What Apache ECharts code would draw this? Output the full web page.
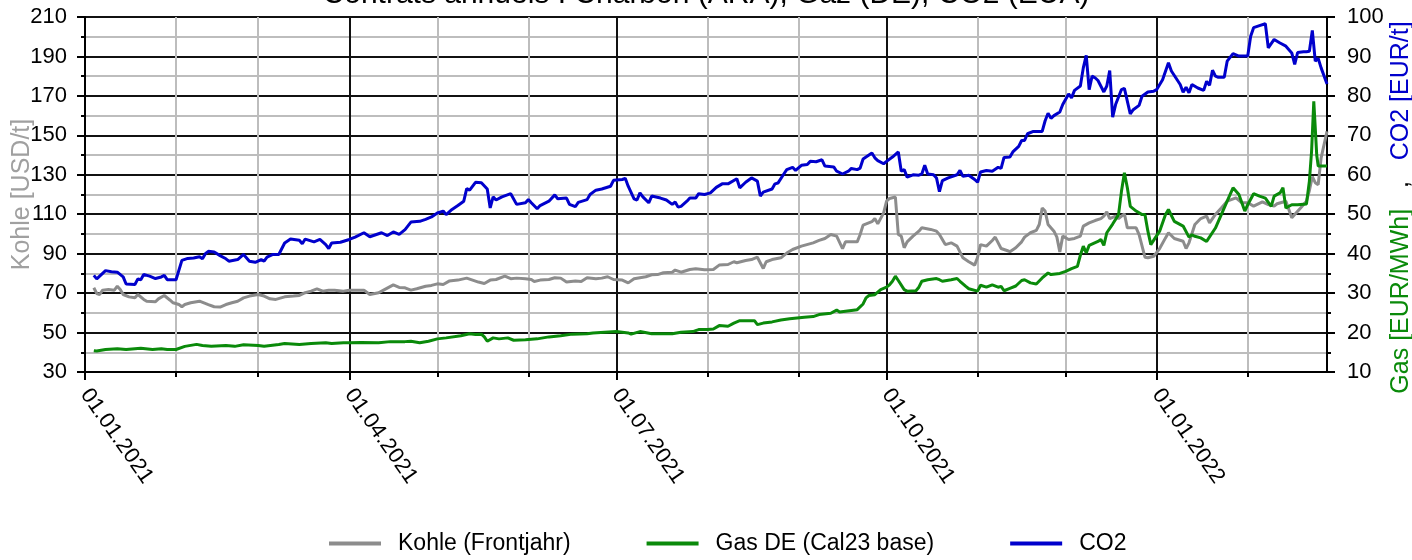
<!DOCTYPE html>
<html lang="de" style="height: 100%">
<head>
  <meta charset="utf-8">
</head>
<body style="height: 100%; margin: 0">
  <div id="container" style="width: 1412px; height: 560px"></div>

  <script type="text/javascript" src="https://cdn.jsdelivr.net/npm/echarts@6/dist/echarts.min.js"></script>

  <script type="text/javascript">
    // Kohle Frontjahr, USD/t (linke Achse)
    const kohle = [
      ['2021-01-04', 72.7], ['2021-01-05', 69.8], ['2021-01-06', 69.3], ['2021-01-07', 71.5], ['2021-01-09', 71.8],
      ['2021-01-11', 71.5], ['2021-01-12', 73.5], ['2021-01-13', 71.8], ['2021-01-14', 69.3], ['2021-01-16', 68.1],
      ['2021-01-18', 67.6], ['2021-01-19', 69.3], ['2021-01-21', 66.8], ['2021-01-22', 65.9], ['2021-01-25', 65.6],
      ['2021-01-26', 67.1], ['2021-01-28', 68.8], ['2021-01-30', 66.4], ['2021-01-31', 65.1], ['2021-02-02', 64.2],
      ['2021-02-03', 63.1], ['2021-02-04', 64.2], ['2021-02-06', 65.1], ['2021-02-09', 65.9], ['2021-02-12', 64.2],
      ['2021-02-14', 63.1], ['2021-02-16', 62.9], ['2021-02-18', 64.2], ['2021-02-20', 65.1], ['2021-02-22', 65.9],
      ['2021-02-24', 67.6], ['2021-02-26', 68.5], ['2021-03-01', 69.3], ['2021-03-03', 68.5], ['2021-03-05', 67.1],
      ['2021-03-07', 66.8], ['2021-03-10', 68.1], ['2021-03-13', 68.5], ['2021-03-15', 68.8], ['2021-03-17', 70.2],
      ['2021-03-19', 71.0], ['2021-03-21', 72.2], ['2021-03-23', 71.0], ['2021-03-25', 71.5], ['2021-03-27', 71.5],
      ['2021-03-30', 71.0], ['2021-04-01', 71.5], ['2021-04-04', 71.5], ['2021-04-06', 71.5], ['2021-04-08', 69.3],
      ['2021-04-11', 70.2], ['2021-04-13', 71.8], ['2021-04-16', 74.2], ['2021-04-18', 72.9], ['2021-04-20', 72.7],
      ['2021-04-22', 71.5], ['2021-04-24', 72.2], ['2021-04-27', 73.5], ['2021-04-29', 73.9], ['2021-05-01', 74.7],
      ['2021-05-03', 74.4], ['2021-05-05', 76.1], ['2021-05-08', 76.6], ['2021-05-11', 77.6], ['2021-05-13', 76.6],
      ['2021-05-15', 75.6], ['2021-05-17', 74.9], ['2021-05-19', 76.6], ['2021-05-21', 76.9], ['2021-05-24', 78.6],
      ['2021-05-26', 77.3], ['2021-05-28', 77.6], ['2021-05-31', 77.3], ['2021-06-02', 76.9], ['2021-06-03', 75.9],
      ['2021-06-05', 76.6], ['2021-06-08', 76.9], ['2021-06-10', 77.8], ['2021-06-12', 77.6], ['2021-06-14', 75.6],
      ['2021-06-17', 76.1], ['2021-06-19', 75.9], ['2021-06-21', 77.8], ['2021-06-24', 77.3], ['2021-06-26', 77.6],
      ['2021-06-28', 78.3], ['2021-06-30', 76.9], ['2021-07-03', 76.6], ['2021-07-05', 75.2], ['2021-07-07', 77.3],
      ['2021-07-11', 78.3], ['2021-07-13', 79.3], ['2021-07-15', 79.4], ['2021-07-17', 80.3], ['2021-07-20', 80.6],
      ['2021-07-21', 81.7], ['2021-07-23', 80.6], ['2021-07-26', 82.0], ['2021-07-28', 82.3], ['2021-07-31', 81.8],
      ['2021-08-03', 82.0], ['2021-08-05', 84.2], ['2021-08-08', 84.5], ['2021-08-10', 85.9], ['2021-08-11', 85.4],
      ['2021-08-14', 86.5], ['2021-08-16', 87.0], ['2021-08-18', 88.2], ['2021-08-20', 82.5], ['2021-08-21', 85.9],
      ['2021-08-23', 87.0], ['2021-08-26', 87.9], ['2021-08-28', 90.3], ['2021-08-30', 92.1], ['2021-09-02', 93.8],
      ['2021-09-06', 95.5], ['2021-09-08', 96.7], ['2021-09-10', 97.7], ['2021-09-12', 99.7], ['2021-09-14', 98.9],
      ['2021-09-16', 92.6], ['2021-09-17', 96.0], ['2021-09-19', 96.0], ['2021-09-21', 96.0], ['2021-09-22', 99.7],
      ['2021-09-23', 104.5], ['2021-09-26', 106.2], ['2021-09-27', 107.8], ['2021-09-28', 105.1], ['2021-09-30', 110.7],
      ['2021-10-01', 116.6], ['2021-10-02', 118.0], ['2021-10-04', 118.7], ['2021-10-05', 99.7], ['2021-10-06', 98.9],
      ['2021-10-07', 93.0], ['2021-10-08', 96.0], ['2021-10-10', 98.9], ['2021-10-12', 101.4], ['2021-10-13', 103.1],
      ['2021-10-16', 102.3], ['2021-10-18', 101.4], ['2021-10-19', 99.7], ['2021-10-21', 94.6], ['2021-10-23', 95.5],
      ['2021-10-25', 93.8], ['2021-10-27', 87.9], ['2021-10-29', 85.9], ['2021-10-31', 84.2], ['2021-11-01', 88.2],
      ['2021-11-02', 94.6], ['2021-11-04', 93.8], ['2021-11-06', 96.7], ['2021-11-07', 98.4], ['2021-11-09', 92.6],
      ['2021-11-11', 91.6], ['2021-11-12', 91.0], ['2021-11-14', 93.0], ['2021-11-16', 96.0], ['2021-11-17', 98.4],
      ['2021-11-19', 100.6], ['2021-11-21', 101.8], ['2021-11-22', 104.8], ['2021-11-23', 113.2], ['2021-11-24', 111.6],
      ['2021-11-25', 104.8], ['2021-11-27', 101.4], ['2021-11-28', 98.4], ['2021-11-29', 90.9], ['2021-11-30', 98.9],
      ['2021-12-02', 97.2], ['2021-12-04', 97.7], ['2021-12-06', 98.9], ['2021-12-07', 104.0], ['2021-12-09', 105.6],
      ['2021-12-11', 106.8], ['2021-12-13', 107.8], ['2021-12-14', 109.0], ['2021-12-15', 111.2], ['2021-12-16', 107.8],
      ['2021-12-18', 109.0], ['2021-12-19', 107.8], ['2021-12-21', 110.2], ['2021-12-22', 103.1], ['2021-12-25', 103.1],
      ['2021-12-26', 99.7], ['2021-12-28', 88.2], ['2021-12-29', 87.9], ['2021-12-31', 88.7], ['2022-01-02', 92.6],
      ['2022-01-04', 98.0], ['2022-01-05', 100.6], ['2022-01-07', 97.7], ['2022-01-10', 96.3], ['2022-01-11', 92.6],
      ['2022-01-12', 95.5], ['2022-01-14', 104.8], ['2022-01-16', 107.8], ['2022-01-18', 109.0], ['2022-01-19', 105.6],
      ['2022-01-21', 109.9], ['2022-01-23', 113.2], ['2022-01-25', 116.6], ['2022-01-28', 118.3], ['2022-01-30', 115.8],
      ['2022-02-01', 115.8], ['2022-02-03', 114.1], ['2022-02-06', 116.3], ['2022-02-08', 114.9], ['2022-02-10', 114.1],
      ['2022-02-11', 115.3], ['2022-02-14', 116.6], ['2022-02-16', 108.2], ['2022-02-17', 109.9], ['2022-02-19', 113.2],
      ['2022-02-21', 116.6], ['2022-02-22', 122.0], ['2022-02-23', 129.0], ['2022-02-24', 126.0], ['2022-02-25', 125.0],
      ['2022-02-26', 138.6], ['2022-02-28', 152.0]
    ];

    // Gas DE Cal23 base, EUR/MWh (rechte Achse)
    const gas = [
      ['2021-01-04', 15.4], ['2021-01-05', 15.3], ['2021-01-08', 15.7], ['2021-01-12', 15.9], ['2021-01-15', 15.7],
      ['2021-01-18', 15.9], ['2021-01-20', 16.0], ['2021-01-24', 15.7], ['2021-01-27', 15.9], ['2021-01-29', 15.7],
      ['2021-02-01', 15.7], ['2021-02-04', 16.5], ['2021-02-08', 17.0], ['2021-02-10', 16.7], ['2021-02-13', 16.5],
      ['2021-02-18', 16.7], ['2021-02-21', 16.5], ['2021-02-24', 16.9], ['2021-03-01', 16.7], ['2021-03-03', 16.5],
      ['2021-03-08', 16.95], ['2021-03-10', 17.2], ['2021-03-15', 17.0], ['2021-03-19', 17.2], ['2021-03-24', 17.4],
      ['2021-03-26', 17.2], ['2021-03-30', 17.4], ['2021-04-01', 17.4], ['2021-04-05', 17.5], ['2021-04-11', 17.4],
      ['2021-04-15', 17.7], ['2021-04-20', 17.7], ['2021-04-22', 17.8], ['2021-04-25', 17.4], ['2021-04-28', 17.8],
      ['2021-05-01', 18.4], ['2021-05-04', 18.65], ['2021-05-09', 19.2], ['2021-05-12', 19.7], ['2021-05-14', 19.5],
      ['2021-05-16', 19.6], ['2021-05-17', 18.9], ['2021-05-18', 17.8], ['2021-05-20', 18.65], ['2021-05-22', 18.4],
      ['2021-05-25', 18.65], ['2021-05-27', 18.05], ['2021-05-31', 18.2], ['2021-06-04', 18.4], ['2021-06-08', 18.9],
      ['2021-06-12', 19.2], ['2021-06-16', 19.6], ['2021-06-21', 19.7], ['2021-06-23', 19.9], ['2021-06-27', 20.1],
      ['2021-07-01', 20.25], ['2021-07-05', 19.9], ['2021-07-06', 19.6], ['2021-07-09', 20.25], ['2021-07-13', 19.7],
      ['2021-07-16', 19.7], ['2021-07-20', 19.7], ['2021-07-23', 20.1], ['2021-07-27', 20.25], ['2021-07-29', 20.75],
      ['2021-08-01', 20.75], ['2021-08-03', 20.9], ['2021-08-05', 21.76], ['2021-08-08', 21.6], ['2021-08-10', 22.4],
      ['2021-08-12', 23.0], ['2021-08-14', 23.0], ['2021-08-17', 23.0], ['2021-08-18', 22.0], ['2021-08-20', 22.4],
      ['2021-08-23', 22.7], ['2021-08-26', 23.2], ['2021-08-29', 23.5], ['2021-09-03', 23.9], ['2021-09-06', 24.05],
      ['2021-09-08', 24.55], ['2021-09-12', 24.9], ['2021-09-14', 25.7], ['2021-09-15', 25.2], ['2021-09-19', 25.6],
      ['2021-09-21', 25.8], ['2021-09-23', 27.25], ['2021-09-24', 28.8], ['2021-09-25', 29.4], ['2021-09-27', 29.6],
      ['2021-09-29', 30.9], ['2021-10-01', 31.5], ['2021-10-02', 32.1], ['2021-10-03', 33.0], ['2021-10-04', 34.3],
      ['2021-10-05', 33.2], ['2021-10-07', 30.9], ['2021-10-08', 30.5], ['2021-10-11', 30.6], ['2021-10-12', 31.5],
      ['2021-10-13', 33.0], ['2021-10-15', 33.4], ['2021-10-18', 33.7], ['2021-10-19', 33.4], ['2021-10-20', 33.0],
      ['2021-10-23', 33.4], ['2021-10-25', 33.7], ['2021-10-26', 33.0], ['2021-10-28', 31.7], ['2021-10-29', 31.1],
      ['2021-11-01', 30.5], ['2021-11-02', 32.0], ['2021-11-04', 31.5], ['2021-11-06', 32.1], ['2021-11-08', 31.5],
      ['2021-11-09', 31.7], ['2021-11-10', 30.6], ['2021-11-12', 31.2], ['2021-11-14', 31.8], ['2021-11-16', 33.2],
      ['2021-11-17', 33.4], ['2021-11-19', 32.6], ['2021-11-21', 32.3], ['2021-11-23', 33.85], ['2021-11-25', 35.1],
      ['2021-11-26', 34.7], ['2021-11-29', 35.0], ['2021-12-01', 35.5], ['2021-12-03', 36.2], ['2021-12-05', 36.8],
      ['2021-12-06', 39.6], ['2021-12-07', 41.9], ['2021-12-08', 40.2], ['2021-12-09', 42.1], ['2021-12-12', 43.1],
      ['2021-12-13', 43.6], ['2021-12-14', 42.1], ['2021-12-15', 45.3], ['2021-12-17', 47.5], ['2021-12-19', 49.9],
      ['2021-12-20', 55.8], ['2021-12-21', 60.5], ['2021-12-22', 56.7], ['2021-12-23', 52.0], ['2021-12-25', 50.8],
      ['2021-12-27', 49.9], ['2021-12-28', 49.9], ['2021-12-29', 45.7], ['2021-12-30', 42.3], ['2022-01-02', 45.7],
      ['2022-01-04', 49.9], ['2022-01-05', 51.2], ['2022-01-07', 48.2], ['2022-01-10', 47.0], ['2022-01-12', 44.2],
      ['2022-01-13', 44.8], ['2022-01-14', 44.4], ['2022-01-16', 44.0], ['2022-01-18', 43.1], ['2022-01-21', 46.5],
      ['2022-01-23', 49.9], ['2022-01-25', 53.3], ['2022-01-27', 56.7], ['2022-01-29', 55.0], ['2022-01-31', 50.8],
      ['2022-02-01', 52.4], ['2022-02-03', 55.2], ['2022-02-05', 54.6], ['2022-02-07', 54.1], ['2022-02-09', 52.0],
      ['2022-02-10', 54.6], ['2022-02-12', 55.4], ['2022-02-13', 56.7], ['2022-02-14', 51.6], ['2022-02-16', 52.4],
      ['2022-02-18', 52.4], ['2022-02-21', 52.6], ['2022-02-22', 58.4], ['2022-02-22 18:00', 66.0],
      ['2022-02-23 12:00', 78.6], ['2022-02-24', 71.9], ['2022-02-24 12:00', 65.0], ['2022-02-25', 62.2],
      ['2022-02-28', 62.2]
    ];

    // CO2 EUA, EUR/t (rechte Achse)
    const co2 = [
      ['2021-01-04', 34.5], ['2021-01-05', 33.6], ['2021-01-08', 35.7], ['2021-01-10', 35.4], ['2021-01-12', 35.3],
      ['2021-01-14', 34.1], ['2021-01-15', 32.3], ['2021-01-18', 32.2], ['2021-01-19', 33.6], ['2021-01-20', 33.4],
      ['2021-01-21', 34.7], ['2021-01-23', 34.3], ['2021-01-25', 33.7], ['2021-01-27', 34.1], ['2021-01-28', 34.5],
      ['2021-01-29', 33.4], ['2021-02-01', 33.4], ['2021-02-03', 38.3], ['2021-02-05', 38.8], ['2021-02-07', 38.9],
      ['2021-02-09', 39.2], ['2021-02-10', 38.7], ['2021-02-11', 40.0], ['2021-02-12', 40.6], ['2021-02-14', 40.4],
      ['2021-02-16', 39.5], ['2021-02-18', 38.7], ['2021-02-19', 38.1], ['2021-02-22', 38.5], ['2021-02-24', 39.8],
      ['2021-02-26', 38.1], ['2021-02-28', 37.8], ['2021-03-02', 38.5], ['2021-03-03', 38.1], ['2021-03-04', 39.1],
      ['2021-03-06', 39.8], ['2021-03-08', 39.8], ['2021-03-10', 42.7], ['2021-03-12', 43.7], ['2021-03-15', 43.4],
      ['2021-03-16', 42.5], ['2021-03-17', 43.7], ['2021-03-20', 43.0], ['2021-03-22', 43.6], ['2021-03-24', 42.3],
      ['2021-03-25', 41.3], ['2021-03-26', 42.7], ['2021-03-29', 42.9], ['2021-04-01', 43.6], ['2021-04-03', 44.2],
      ['2021-04-06', 45.3], ['2021-04-08', 44.3], ['2021-04-10', 44.8], ['2021-04-12', 45.3], ['2021-04-14', 44.6],
      ['2021-04-16', 45.5], ['2021-04-18', 44.9], ['2021-04-20', 46.1], ['2021-04-22', 48.0], ['2021-04-25', 48.2],
      ['2021-04-27', 48.7], ['2021-04-29', 49.3], ['2021-05-01', 50.3], ['2021-05-03', 50.8], ['2021-05-04', 49.9],
      ['2021-05-06', 51.2], ['2021-05-08', 52.2], ['2021-05-10', 53.3], ['2021-05-11', 56.5], ['2021-05-12', 56.1],
      ['2021-05-14', 58.1], ['2021-05-16', 58.0], ['2021-05-18', 56.4], ['2021-05-19', 51.6], ['2021-05-20', 54.4],
      ['2021-05-21', 53.6], ['2021-05-23', 54.4], ['2021-05-26', 55.2], ['2021-05-28', 52.5], ['2021-05-31', 52.9],
      ['2021-06-01', 53.7], ['2021-06-02', 52.9], ['2021-06-04', 51.4], ['2021-06-05', 52.2], ['2021-06-08', 53.3],
      ['2021-06-10', 54.9], ['2021-06-11', 53.9], ['2021-06-14', 54.1], ['2021-06-15', 52.5], ['2021-06-17', 51.9],
      ['2021-06-18', 53.0], ['2021-06-21', 53.7], ['2021-06-22', 55.0], ['2021-06-24', 56.1], ['2021-06-26', 56.4],
      ['2021-06-29', 57.1], ['2021-06-30', 58.6], ['2021-07-03', 58.8], ['2021-07-04', 59.1], ['2021-07-05', 57.1],
      ['2021-07-07', 53.9], ['2021-07-08', 53.6], ['2021-07-09', 55.4], ['2021-07-10', 54.4], ['2021-07-12', 52.9],
      ['2021-07-13', 54.6], ['2021-07-16', 54.1], ['2021-07-18', 53.6], ['2021-07-20', 52.5], ['2021-07-21', 53.1],
      ['2021-07-22', 51.8], ['2021-07-23', 52.0], ['2021-07-25', 53.3], ['2021-07-26', 54.1], ['2021-07-28', 54.1],
      ['2021-07-29', 55.2], ['2021-07-31', 55.0], ['2021-08-02', 55.4], ['2021-08-04', 56.8], ['2021-08-06', 57.7],
      ['2021-08-08', 57.7], ['2021-08-11', 59.0], ['2021-08-12', 56.7], ['2021-08-14', 58.1], ['2021-08-16', 59.2],
      ['2021-08-18', 58.4], ['2021-08-19', 54.6], ['2021-08-20', 55.6], ['2021-08-23', 56.4], ['2021-08-24', 57.7],
      ['2021-08-25', 57.9], ['2021-08-27', 60.2], ['2021-08-28', 61.3], ['2021-08-30', 61.9], ['2021-08-31', 61.1],
      ['2021-09-02', 62.4], ['2021-09-04', 62.6], ['2021-09-05', 63.4], ['2021-09-07', 63.3], ['2021-09-09', 63.8],
      ['2021-09-10', 62.2], ['2021-09-13', 62.0], ['2021-09-14', 60.9], ['2021-09-16', 60.2], ['2021-09-18', 60.9],
      ['2021-09-19', 61.6], ['2021-09-21', 61.3], ['2021-09-22', 61.7], ['2021-09-23', 64.0], ['2021-09-25', 65.0],
      ['2021-09-26', 65.5], ['2021-09-27', 64.3], ['2021-09-28', 63.6], ['2021-09-30', 62.8], ['2021-10-01', 63.4],
      ['2021-10-03', 64.5], ['2021-10-05', 65.8], ['2021-10-06', 60.9], ['2021-10-07', 61.3], ['2021-10-08', 59.4],
      ['2021-10-10', 60.0], ['2021-10-12', 59.9], ['2021-10-13', 60.2], ['2021-10-14', 62.4], ['2021-10-15', 60.2],
      ['2021-10-17', 60.0], ['2021-10-18', 59.2], ['2021-10-19', 55.7], ['2021-10-20', 58.5], ['2021-10-22', 59.2],
      ['2021-10-25', 60.0], ['2021-10-26', 61.1], ['2021-10-27', 59.6], ['2021-10-29', 59.9], ['2021-10-31', 58.8],
      ['2021-11-01', 58.1], ['2021-11-02', 60.7], ['2021-11-04', 61.1], ['2021-11-06', 60.9], ['2021-11-08', 61.9],
      ['2021-11-09', 61.6], ['2021-11-10', 64.4], ['2021-11-12', 64.5], ['2021-11-13', 65.8], ['2021-11-15', 67.2],
      ['2021-11-16', 68.7], ['2021-11-17', 68.7], ['2021-11-18', 70.4], ['2021-11-20', 71.0], ['2021-11-23', 71.0],
      ['2021-11-24', 73.7], ['2021-11-25', 75.6], ['2021-11-26', 74.3], ['2021-11-27', 75.0], ['2021-11-29', 75.9],
      ['2021-11-30', 77.8], ['2021-12-02', 80.5], ['2021-12-03', 79.5], ['2021-12-04', 81.4], ['2021-12-06', 82.5],
      ['2021-12-07', 87.1], ['2021-12-08', 90.3], ['2021-12-09', 81.6], ['2021-12-10', 85.0], ['2021-12-11', 84.6],
      ['2021-12-12', 83.9], ['2021-12-14', 81.0], ['2021-12-15', 82.5], ['2021-12-16', 86.4], ['2021-12-17', 74.6],
      ['2021-12-18', 77.8], ['2021-12-20', 81.6], ['2021-12-21', 81.9], ['2021-12-23', 75.4], ['2021-12-24', 76.5],
      ['2021-12-26', 77.6], ['2021-12-27', 79.9], ['2021-12-29', 81.0], ['2021-12-31', 81.2], ['2022-01-01', 81.6],
      ['2022-01-03', 84.1], ['2022-01-05', 88.4], ['2022-01-06', 86.3], ['2022-01-09', 82.9], ['2022-01-10', 80.9],
      ['2022-01-11', 82.2], ['2022-01-12', 80.8], ['2022-01-13', 82.9], ['2022-01-15', 82.0], ['2022-01-17', 81.4],
      ['2022-01-18', 83.7], ['2022-01-19', 82.7], ['2022-01-20', 86.5], ['2022-01-21', 85.0], ['2022-01-22', 84.7],
      ['2022-01-24', 84.7], ['2022-01-25', 88.8], ['2022-01-27', 90.7], ['2022-01-29', 90.1], ['2022-02-01', 90.1],
      ['2022-02-02', 95.1], ['2022-02-03', 97.3], ['2022-02-05', 97.8], ['2022-02-07', 98.3], ['2022-02-08', 92.2],
      ['2022-02-10', 94.3], ['2022-02-12', 93.4], ['2022-02-14', 92.6], ['2022-02-16', 90.9], ['2022-02-17', 88.0],
      ['2022-02-18', 91.0], ['2022-02-20', 91.2], ['2022-02-21', 91.2], ['2022-02-22', 91.3], ['2022-02-23', 96.6],
      ['2022-02-24', 88.8], ['2022-02-25', 89.5], ['2022-02-26', 87.1], ['2022-02-28', 83.0]
    ];

    const quarterTicks = ['2021-01-01', '2021-04-01', '2021-07-01', '2021-10-01', '2022-01-01'];
    const monthTicks = ['2021-02-01', '2021-03-01', '2021-05-01', '2021-06-01', '2021-08-01',
      '2021-09-01', '2021-11-01', '2021-12-01', '2022-02-01'];
    const xMin = '2021-01-01';
    const xMax = '2022-02-28';

    const FONT = 'Liberation Sans, Arial, sans-serif';
    const GRID_BLACK = '#111';
    const GRID_GRAY = '#bdbdbd';

    // 'yyyy-MM-dd' oder 'yyyy-MM-dd hh:mm' -> UTC-Zeitstempel
    function ts(s) {
      const p = s.split(/[- :]/).map(Number);
      return Date.UTC(p[0], p[1] - 1, p[2], p[3] || 0, p[4] || 0);
    }
    function toPoints(rows) {
      return rows.map(function (r) { return [ts(r[0]), r[1]]; });
    }
    function pad(n) { return n < 10 ? '0' + n : '' + n; }
    function fmtDate(v) {
      const d = new Date(v);
      return pad(d.getUTCDate()) + '.' + pad(d.getUTCMonth() + 1) + '.' + d.getUTCFullYear();
    }

    var dom = document.getElementById('container');
    var myChart = echarts.init(dom, null, { renderer: 'canvas' });

    var option = {
      animation: false,
      backgroundColor: '#fff',
      textStyle: { fontFamily: FONT },
      title: {
        text: 'Contrats annuels : Charbon (ARA), Gaz (DE), CO2 (EUA)',
        left: 'center',
        top: -25,
        textStyle: { fontSize: 30, fontWeight: 'normal', color: '#000', fontFamily: FONT }
      },
      legend: {
        data: ['Kohle (Frontjahr)', 'Gas DE (Cal23 base)', 'CO2'],
        left: 324,
        bottom: 0,
        icon: 'rect',
        itemWidth: 52,
        itemHeight: 4,
        itemGap: 76,
        textStyle: { fontSize: 23, color: '#000', fontFamily: FONT, padding: [0, 0, 0, 12] }
      },
      grid: { left: 85, right: 85, top: 17, bottom: 188, outerBoundsMode: 'none', containLabel: false },
      xAxis: [
        {
          type: 'value',
          min: ts(xMin),
          max: ts(xMax),
          axisLine: { lineStyle: { color: '#000', width: 2 } },
          axisTick: { customValues: quarterTicks.map(ts), length: 8, lineStyle: { color: '#000', width: 2 } },
          axisLabel: {
            customValues: quarterTicks.map(ts),
            rotate: -55,
            margin: 19,
            fontSize: 22,
            color: '#000',
            fontFamily: FONT,
            formatter: fmtDate
          },
          splitLine: { show: true, lineStyle: { color: GRID_BLACK, width: 2 } }
        },
        {
          type: 'value',
          min: ts(xMin),
          max: ts(xMax),
          position: 'bottom',
          axisLine: { show: false },
          axisTick: { customValues: monthTicks.map(ts), length: 5, lineStyle: { color: '#000', width: 2 } },
          axisLabel: { show: false },
          splitLine: { show: true, lineStyle: { color: GRID_GRAY, width: 2 } }
        }
      ],
      yAxis: [
        {
          type: 'value',
          min: 30,
          max: 210,
          interval: 20,
          position: 'left',
          name: 'Kohle [USD/t]',
          nameLocation: 'middle',
          nameRotate: 90,
          nameGap: 50,
          nameMoveOverlap: false,
          nameTextStyle: { color: '#a0a0a0', fontSize: 25, fontFamily: FONT },
          axisLine: { show: true, lineStyle: { color: '#000', width: 2 } },
          axisTick: { show: true, length: 8, lineStyle: { color: '#000', width: 2 } },
          minorTick: { show: true, splitNumber: 2, length: 4, lineStyle: { color: '#000', width: 2 } },
          axisLabel: { fontSize: 22, color: '#000', margin: 18, fontFamily: FONT },
          splitLine: { show: true, lineStyle: { color: GRID_BLACK, width: 2 } },
          minorSplitLine: { show: true, lineStyle: { color: GRID_GRAY, width: 2 } }
        },
        {
          type: 'value',
          min: 10,
          max: 100,
          interval: 10,
          position: 'right',
          name: '{g|Gas [EUR/MWh]}{c|   ,   }{b|CO2 [EUR/t]}',
          nameLocation: 'middle',
          nameRotate: 90,
          nameGap: 62,
          nameMoveOverlap: false,
          nameTextStyle: {
            fontSize: 25,
            fontFamily: FONT,
            padding: [0, 26, 0, 0],
            rich: {
              g: { color: '#0a8a0a', fontSize: 25, fontFamily: FONT },
              c: { color: '#000', fontSize: 25, fontFamily: FONT },
              b: { color: '#0000cc', fontSize: 25, fontFamily: FONT }
            }
          },
          axisLine: { show: true, lineStyle: { color: '#000', width: 2 } },
          axisTick: { show: true, length: 8, lineStyle: { color: '#000', width: 2 } },
          minorTick: { show: true, splitNumber: 2, length: 4, lineStyle: { color: '#000', width: 2 } },
          axisLabel: { fontSize: 22, color: '#000', margin: 20, fontFamily: FONT },
          splitLine: { show: false }
        }
      ],
      series: [
        {
          name: 'Kohle (Frontjahr)',
          type: 'line',
          xAxisIndex: 0,
          yAxisIndex: 0,
          data: toPoints(kohle),
          showSymbol: false,
          color: '#8c8c8c',
          lineStyle: { width: 3, color: '#8c8c8c' }
        },
        {
          name: 'Gas DE (Cal23 base)',
          type: 'line',
          xAxisIndex: 0,
          yAxisIndex: 1,
          data: toPoints(gas),
          showSymbol: false,
          color: '#0a8a0a',
          lineStyle: { width: 3, color: '#0a8a0a' }
        },
        {
          name: 'CO2',
          type: 'line',
          xAxisIndex: 0,
          yAxisIndex: 1,
          data: toPoints(co2),
          showSymbol: false,
          color: '#0000cc',
          lineStyle: { width: 3, color: '#0000cc' }
        }
      ]
    };

    myChart.setOption(option);
    window.addEventListener('resize', myChart.resize);
  </script>
</body>
</html>
